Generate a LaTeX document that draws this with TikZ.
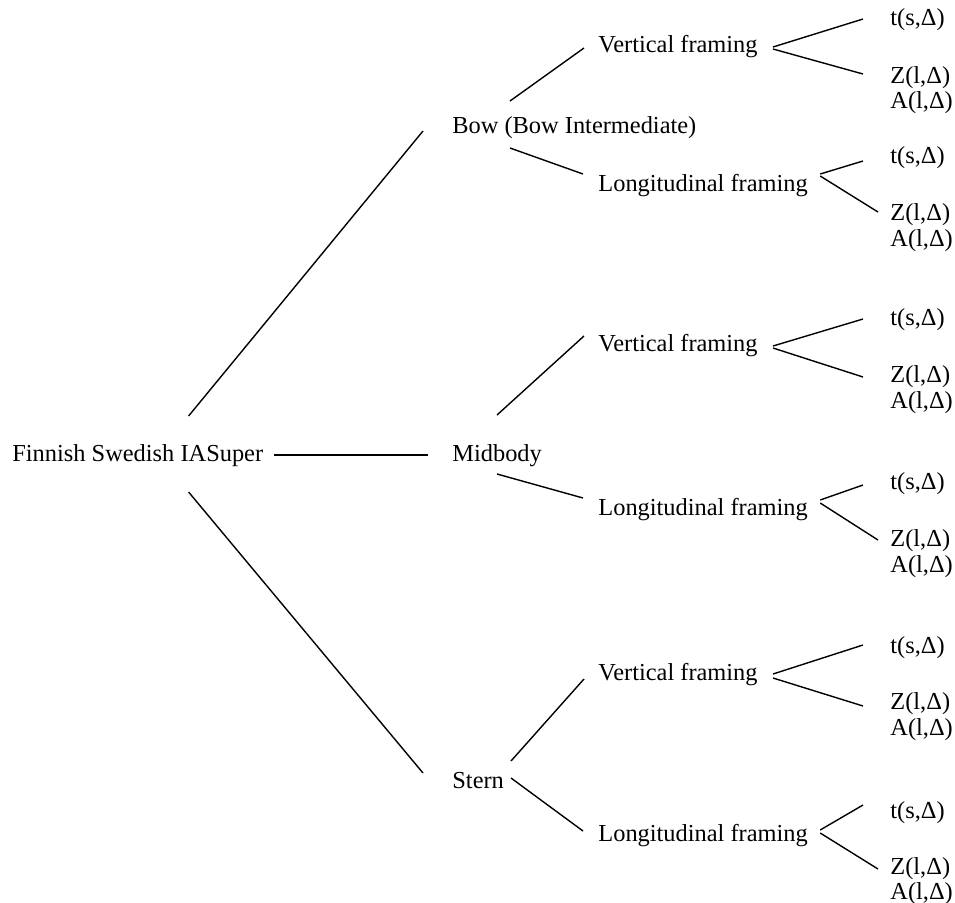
\documentclass[tikz,border=0pt]{standalone}
\usepackage{fontspec}
\setmainfont{Liberation Serif}
\tikzset{lbl/.style={anchor=base west,inner sep=0pt,font=\fontsize{12.2}{14}\selectfont},
         trait/.style={line width=0.7pt}}
\begin{document}
\begin{tikzpicture}[x=0.5pt,y=-0.5pt]
\useasboundingbox (0,0) rectangle (955,902);
%					Racine et parties :
\node[lbl] (root) at (12,461) {Finnish Swedish IASuper};
\node[lbl] (bow) at (452,133) {Bow (Bow Intermediate)};
\node[lbl] (mid) at (452,461) {Midbody};
\node[lbl] (stern) at (452,788) {Stern};
\draw[trait] ([shift={(-75,-45)}]root.base east) -- ([shift={(-29,-2)}]bow.base west);
\draw[trait] ([shift={(10,-6)}]root.base east) -- ([shift={(-24,-6)}]mid.base west);
\draw[trait] ([shift={(-75,31)}]root.base east) -- ([shift={(-29,-15)}]stern.base west);
%					Raidissage :
\node[lbl] (bowv) at (598,52) {Vertical framing};
\node[lbl] (bowl) at (598,191) {Longitudinal framing};
\node[lbl] (midv) at (598,351) {Vertical framing};
\node[lbl] (midl) at (598,515) {Longitudinal framing};
\node[lbl] (sterv) at (598,680) {Vertical framing};
\node[lbl] (sterl) at (598,841) {Longitudinal framing};
\draw[trait] ([shift={(58,-32)}]bow.base west) -- ([shift={(-14,-4)}]bowv.base west);
\draw[trait] ([shift={(58,15)}]bow.base west) -- ([shift={(-15,-17)}]bowl.base west);
\draw[trait] ([shift={(45,-46)}]mid.base west) -- ([shift={(-14,-15)}]midv.base west);
\draw[trait] ([shift={(45,13)}]mid.base west) -- ([shift={(-15,-17)}]midl.base west);
\draw[trait] ([shift={(59,-27)}]stern.base west) -- ([shift={(-14,-1)}]sterv.base west);
\draw[trait] ([shift={(59,-10)}]stern.base west) -- ([shift={(-15,-10)}]sterl.base west);
%					Grandeurs :
\node[lbl] (bowvt) at (890,25) {t(s,Δ)};
\node[lbl] (bowvz) at (890,83) {Z(l,Δ)};
\node[lbl] (bowva) at (890,108) {A(l,Δ)};
\node[lbl] (bowlt) at (890,163) {t(s,Δ)};
\node[lbl] (bowlz) at (890,220) {Z(l,Δ)};
\node[lbl] (bowla) at (890,246) {A(l,Δ)};
\node[lbl] (midvt) at (890,325) {t(s,Δ)};
\node[lbl] (midvz) at (890,382) {Z(l,Δ)};
\node[lbl] (midva) at (890,408) {A(l,Δ)};
\node[lbl] (midlt) at (890,489) {t(s,Δ)};
\node[lbl] (midlz) at (890,546) {Z(l,Δ)};
\node[lbl] (midla) at (890,572) {A(l,Δ)};
\node[lbl] (stervt) at (890,653) {t(s,Δ)};
\node[lbl] (stervz) at (890,709) {Z(l,Δ)};
\node[lbl] (sterva) at (890,735) {A(l,Δ)};
\node[lbl] (sterlt) at (890,818) {t(s,Δ)};
\node[lbl] (sterlz) at (890,874) {Z(l,Δ)};
\node[lbl] (sterla) at (890,899) {A(l,Δ)};
\draw[trait] ([shift={(15,-5)}]bowv.base east) -- ([shift={(-27,-6)}]bowvt.base west);
\draw[trait] ([shift={(15,-3)}]bowv.base east) -- ([shift={(-27,-9)}]bowvz.base west);
\draw[trait] ([shift={(12,-17)}]bowl.base east) -- ([shift={(-27,-2)}]bowlt.base west);
\draw[trait] ([shift={(12,-15)}]bowl.base east) -- ([shift={(-12,-8)}]bowlz.base west);
\draw[trait] ([shift={(15,-5)}]midv.base east) -- ([shift={(-27,-6)}]midvt.base west);
\draw[trait] ([shift={(15,-3)}]midv.base east) -- ([shift={(-27,-5)}]midvz.base west);
\draw[trait] ([shift={(12,-15)}]midl.base east) -- ([shift={(-27,-4)}]midlt.base west);
\draw[trait] ([shift={(12,-12)}]midl.base east) -- ([shift={(-12,-6)}]midlz.base west);
\draw[trait] ([shift={(15,-6)}]sterv.base east) -- ([shift={(-27,-8)}]stervt.base west);
\draw[trait] ([shift={(15,-2)}]sterv.base east) -- ([shift={(-27,-3)}]stervz.base west);
\draw[trait] ([shift={(12,-11)}]sterl.base east) -- ([shift={(-27,-13)}]sterlt.base west);
\draw[trait] ([shift={(12,-8)}]sterl.base east) -- ([shift={(-12,-5)}]sterlz.base west);
\end{tikzpicture}
\end{document}
